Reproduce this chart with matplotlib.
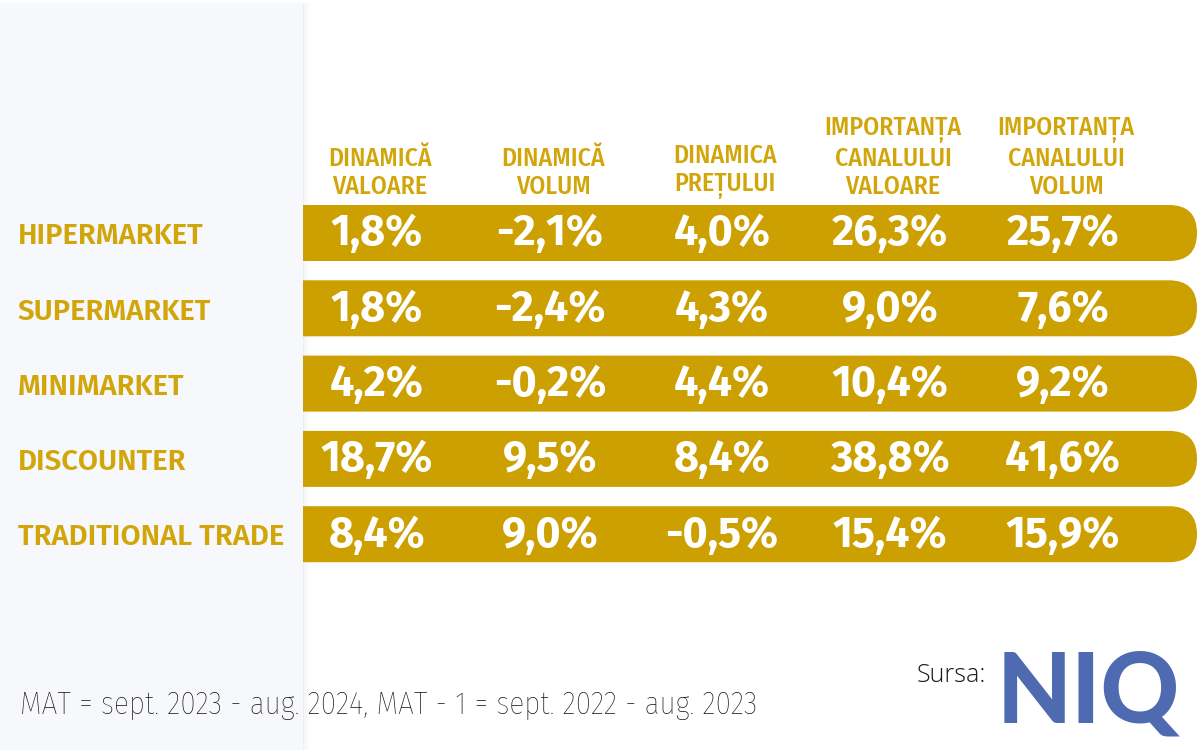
import matplotlib.pyplot as plt
from matplotlib.patches import FancyBboxPatch, Rectangle

categories = ["HIPERMARKET", "SUPERMARKET", "MINIMARKET", "DISCOUNTER", "TRADITIONAL TRADE"]
headers = [
    "DINAMICĂ\nVALOARE",
    "DINAMICĂ\nVOLUM",
    "DINAMICA\nPREȚULUI",
    "IMPORTANȚA\nCANALULUI\nVALOARE",
    "IMPORTANȚA\nCANALULUI\nVOLUM",
]
dinamica_valoare = [1.8, 1.8, 4.2, 18.7, 8.4]
dinamica_volum = [-2.1, -2.4, -0.2, 9.5, 9.0]
dinamica_pret = [4.0, 4.3, 4.4, 8.4, -0.5]
importanta_valoare = [26.3, 9.0, 10.4, 38.8, 15.4]
importanta_volum = [25.7, 7.6, 9.2, 41.6, 15.9]
footnote = "MAT = sept. 2023 - aug. 2024, MAT - 1 = sept. 2022 - aug. 2023"

columns = [dinamica_valoare, dinamica_volum, dinamica_pret, importanta_valoare, importanta_volum]

GOLD = "#CCA000"
GOLD_TXT = "#D2A60A"
FIRA = ["Fira Sans", "Open Sans", "DejaVu Sans"]
FIRA_COND = ["Fira Sans Condensed", "Roboto", "DejaVu Sans"]

fig = plt.figure(figsize=(12, 7.5), dpi=100)
ax = fig.add_axes([0, 0, 1, 1])
ax.set_xlim(0, 1200)
ax.set_ylim(750, 0)
ax.axis("off")

# left panel with soft shadow
ax.add_patch(Rectangle((0, 3), 303, 747, color="#F7F8FC", zorder=0))
for k in range(8):
    ax.add_patch(Rectangle((303 + k, 3), 1, 747, color="#000000",
                           alpha=0.035 * (1 - k / 8), lw=0, zorder=0))

row_y = [233 + 75.3 * i for i in range(len(categories))]
col_x = [377, 550, 722, 890, 1063]
bar_left, bar_right, bar_h = 303, 1197, 56

for i, cat in enumerate(categories):
    y = row_y[i]
    bar = FancyBboxPatch((bar_left - 60, y - bar_h / 2), bar_right - bar_left + 60, bar_h,
                         boxstyle="round,pad=0,rounding_size=28",
                         fc=GOLD, ec="none", zorder=2)
    ax.add_patch(bar)
    clip = Rectangle((bar_left, y - bar_h), 950, 2 * bar_h, transform=ax.transData)
    bar.set_clip_path(clip)
    ax.text(18, y + 3, cat, ha="left", va="center", color=GOLD_TXT,
            fontsize=21, fontweight="semibold", family=FIRA, zorder=3)
    for j, col in enumerate(columns):
        label = f"{col[i]:.1f}%".replace(".", ",")
        ax.text(col_x[j], y + 1, label, ha="center", va="center", color="white",
                fontsize=31, fontweight="bold", family=FIRA, zorder=3)

for j, h in enumerate(headers):
    ax.text(col_x[j] + 3, 199, h, ha="center", va="bottom", color=GOLD_TXT,
            fontsize=18.5, fontweight="medium", family=FIRA_COND, linespacing=1.15, zorder=3)

ax.text(20, 705, footnote, ha="left", va="center", color="#140F0F",
        fontsize=22.5, fontweight="light", family=FIRA_COND)
ax.text(986, 676, "Sursa:", ha="right", va="center", color="#1E1818",
        fontsize=18, fontweight="light", family=["Open Sans", "DejaVu Sans"])
ax.text(997, 694, "NIQ", ha="left", va="center", color="#4E6AB0",
        fontsize=70, fontweight="black", family=["Lato", "DejaVu Sans"])

fig.savefig("out.png", dpi=100)
